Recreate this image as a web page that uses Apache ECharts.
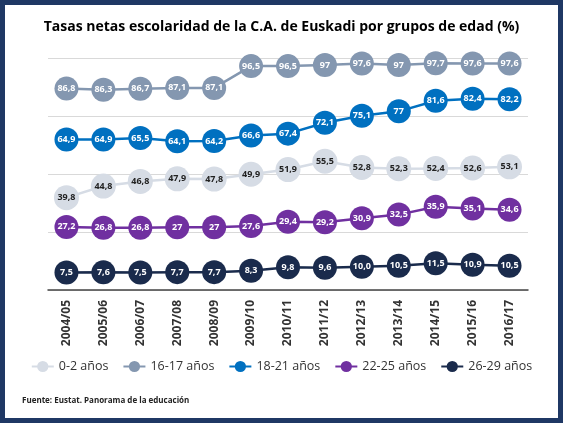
<!DOCTYPE html><html><head><meta charset="utf-8"><script src="https://cdn.jsdelivr.net/npm/echarts@6/dist/echarts.min.js"></script>
<style>body{margin:0}#c{width:563px;height:423px;box-sizing:border-box;border:5px solid #1f3864;background:#fff}</style></head><body><div id="c"></div><script>
const categories=['2004/05','2005/06','2006/07','2007/08','2008/09','2009/10','2010/11','2011/12','2012/13','2013/14','2014/15','2015/16','2016/17'];
const s0_2=[39.8,44.8,46.8,47.9,47.8,49.9,51.9,55.5,52.8,52.3,52.4,52.6,53.1];
const s16_17=[86.8,86.3,86.7,87.1,87.1,96.5,96.5,97,97.6,97,97.7,97.6,97.6];
const s18_21=[64.9,64.9,65.5,64.1,64.2,66.6,67.4,72.1,75.1,77,81.6,82.4,82.2];
const s22_25=[27.2,26.8,26.8,27,27,27.6,29.4,29.2,30.9,32.5,35.9,35.1,34.6];
const s26_29=[7.5,7.6,7.5,7.7,7.7,8.3,9.8,9.6,10.0,10.5,11.5,10.9,10.5];
const names=['0-2 años','16-17 años','18-21 años','22-25 años','26-29 años'];
const data=[s0_2,s16_17,s18_21,s22_25,s26_29];
const colors=['#d6dce5','#8497b0','#0070c0','#7030a0','#1a2b4c'];
const labelColors=['#222','#fff','#fff','#fff','#fff'];
const fixed=[false,false,false,false,true];
const ch=echarts.init(document.getElementById('c'));
ch.setOption({
 title:{text:'Tasas netas escolaridad de la C.A. de Euskadi por grupos de edad (%)',left:'center',top:10,textStyle:{fontSize:14,fontWeight:'bold',color:'#000',fontFamily:'Open Sans'}},
 legend:{bottom:40,itemGap:14,itemWidth:22,textStyle:{fontSize:12.5,color:'#333',fontFamily:'Open Sans'},data:names},
 graphic:[{type:'text',left:17,bottom:13,style:{text:'Fuente: Eustat. Panorama de la educación',fontSize:8,fontWeight:'bold',fill:'#222',fontFamily:'Open Sans'}}],
 grid:{left:43,right:30,top:53,bottom:128},
 xAxis:{type:'category',data:categories,axisLine:{lineStyle:{color:'#444',width:1.5}},axisTick:{show:false},axisLabel:{rotate:90,fontSize:12,fontWeight:'bold',color:'#333',margin:10,fontFamily:'Open Sans'}},
 yAxis:{type:'value',min:0,max:100,interval:25,axisLabel:{show:false},axisLine:{show:false},splitLine:{lineStyle:{color:'#d9d9d9'}}},
 series:data.map((d,i)=>({name:names[i],type:'line',data:d,symbol:'circle',symbolSize:i==0?25:24,color:colors[i],lineStyle:{width:2.5,color:colors[i]},
  label:{show:true,position:'inside',fontSize:9,fontWeight:'bold',color:labelColors[i],fontFamily:'Open Sans',formatter:p=>fixed[i]?p.value.toFixed(1).replace('.',','):String(p.value).replace('.',',')}}))
});
</script></body></html>
